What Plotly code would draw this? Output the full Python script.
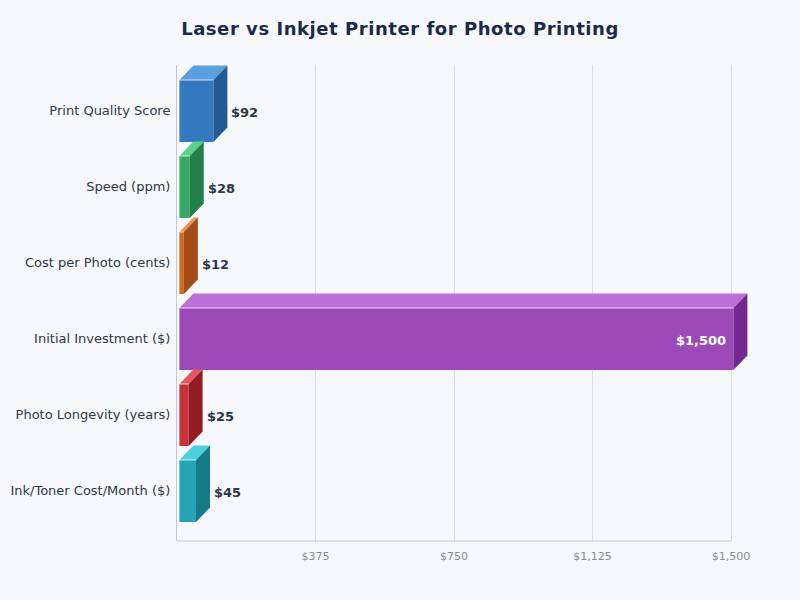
import plotly.graph_objects as go

# values, top bar first
categories = ["Print Quality Score", "Speed (ppm)", "Cost per Photo (cents)",
              "Initial Investment ($)", "Photo Longevity (years)", "Ink/Toner Cost/Month ($)"]
values = [92, 28, 12, 1500, 25, 45]
positions = [0, 1, 2, 3, 4, 5]
front_colors = ["#3579c1", "#38a866", "#d0691f", "#9b4ab8", "#c53238", "#26a3b5"]
top_colors = ["#5a9fe0", "#5fd08c", "#ee9350", "#bb70d8", "#e2585e", "#4dd0dc"]
side_colors = ["#225a94", "#22804a", "#a24b16", "#73288f", "#931c22", "#167a88"]
x_ticks = [375, 750, 1125, 1500]
x_labels = ["$375", "$750", "$1,125", "$1,500"]

x_max = 1500
plot_w = 554
extra_w = 20  # room right of the last gridline so the 3d side of the big bar is not clipped
band_px = 76
bar_width = 62 / band_px

# pixels to data units, the 3d faces are offset by a fixed number of pixels
dx = x_max / plot_w
dy = 1 / band_px
start = 2.4 * dx
depth_x = 14 * dx
depth_y = 14.5 * dy

fig = go.Figure()

fig.add_trace(go.Bar(y=positions, x=values, base=start, orientation="h", width=bar_width,
                     marker=dict(color=front_colors, line=dict(width=0)),
                     cliponaxis=False, hoverinfo="skip", showlegend=False))

for pos, val, top, side in zip(positions, values, top_colors, side_colors):
    left = start
    right = start + val
    up = pos - bar_width / 2
    down = pos + bar_width / 2
    # top face
    fig.add_trace(go.Scatter(x=[left, right, right + depth_x, left + depth_x, left],
                             y=[up, up, up - depth_y, up - depth_y, up],
                             mode="lines", fill="toself", fillcolor=top, line=dict(width=0),
                             cliponaxis=False, hoverinfo="skip", showlegend=False))
    # side face
    fig.add_trace(go.Scatter(x=[right, right + depth_x, right + depth_x, right, right],
                             y=[up, up - depth_y, down - depth_y, down, up],
                             mode="lines", fill="toself", fillcolor=side, line=dict(width=0),
                             cliponaxis=False, hoverinfo="skip", showlegend=False))
    # highlight along the top edge
    fig.add_trace(go.Scatter(x=[left, right], y=[up, up], mode="lines",
                             line=dict(color="rgba(255,255,255,0.75)", width=1),
                             cliponaxis=False, hoverinfo="skip", showlegend=False))

# value labels
for pos, val in zip(positions, values):
    label = "$" + format(val, ",")
    if val > 1000:
        fig.add_annotation(x=start + val - 5 * dx, y=pos, yshift=-1, text=label, showarrow=False,
                           xanchor="right", font=dict(size=13, color="white", family="DejaVu Sans", weight="bold"))
    else:
        fig.add_annotation(x=start + val + depth_x + 2 * dx, y=pos, yshift=-1, text=label, showarrow=False,
                           xanchor="left", font=dict(size=13, color="#2d3748", family="DejaVu Sans", weight="bold"))

# x axis line stops at the last tick, the plot area goes on a bit further
fig.add_shape(type="line", xref="x", yref="paper", x0=0, x1=x_max, y0=0, y1=0,
              line=dict(color="#c4c7cf", width=1))

fig.update_layout(
    width=800, height=600,
    margin=dict(l=177, r=69 - extra_w, t=65, b=59),
    paper_bgcolor="#f7f8fc", plot_bgcolor="#f7f8fc",
    font=dict(family="DejaVu Sans"),
    title=dict(text="<b>Laser vs Inkjet Printer for Photo Printing</b>",
               x=0.5, xanchor="center", y=0.953, yanchor="middle",
               font=dict(size=18, color="#1a2a4a", family="DejaVu Sans")),
    showlegend=False,
)
fig.update_xaxes(range=[0, x_max + extra_w * dx], tickvals=x_ticks, ticktext=x_labels, automargin=False,
                 tickfont=dict(size=11, color="#858a99"), ticks="outside", ticklen=5,
                 tickcolor="rgba(0,0,0,0)", showgrid=True, gridcolor="#dcdee4", gridwidth=1,
                 showline=False, zeroline=False)
fig.update_yaxes(range=[5 + 50 / band_px, -46 / band_px], tickvals=positions, ticktext=categories, automargin=False,
                 tickfont=dict(size=13, color="#2d3748"), ticks="outside", ticklen=3, ticklabelshift=1,
                 tickcolor="rgba(0,0,0,0)", showgrid=False,
                 showline=True, linecolor="#c4c7cf", linewidth=1, zeroline=False)

# the title in the reference is slightly letter-spaced, plotly has no font option for that
fig.write_html("out.html", config={"displayModeBar": False},
               post_script="document.body.style.margin='0';"
                           "document.querySelector('.gtitle').style.letterSpacing='0.55px';")
